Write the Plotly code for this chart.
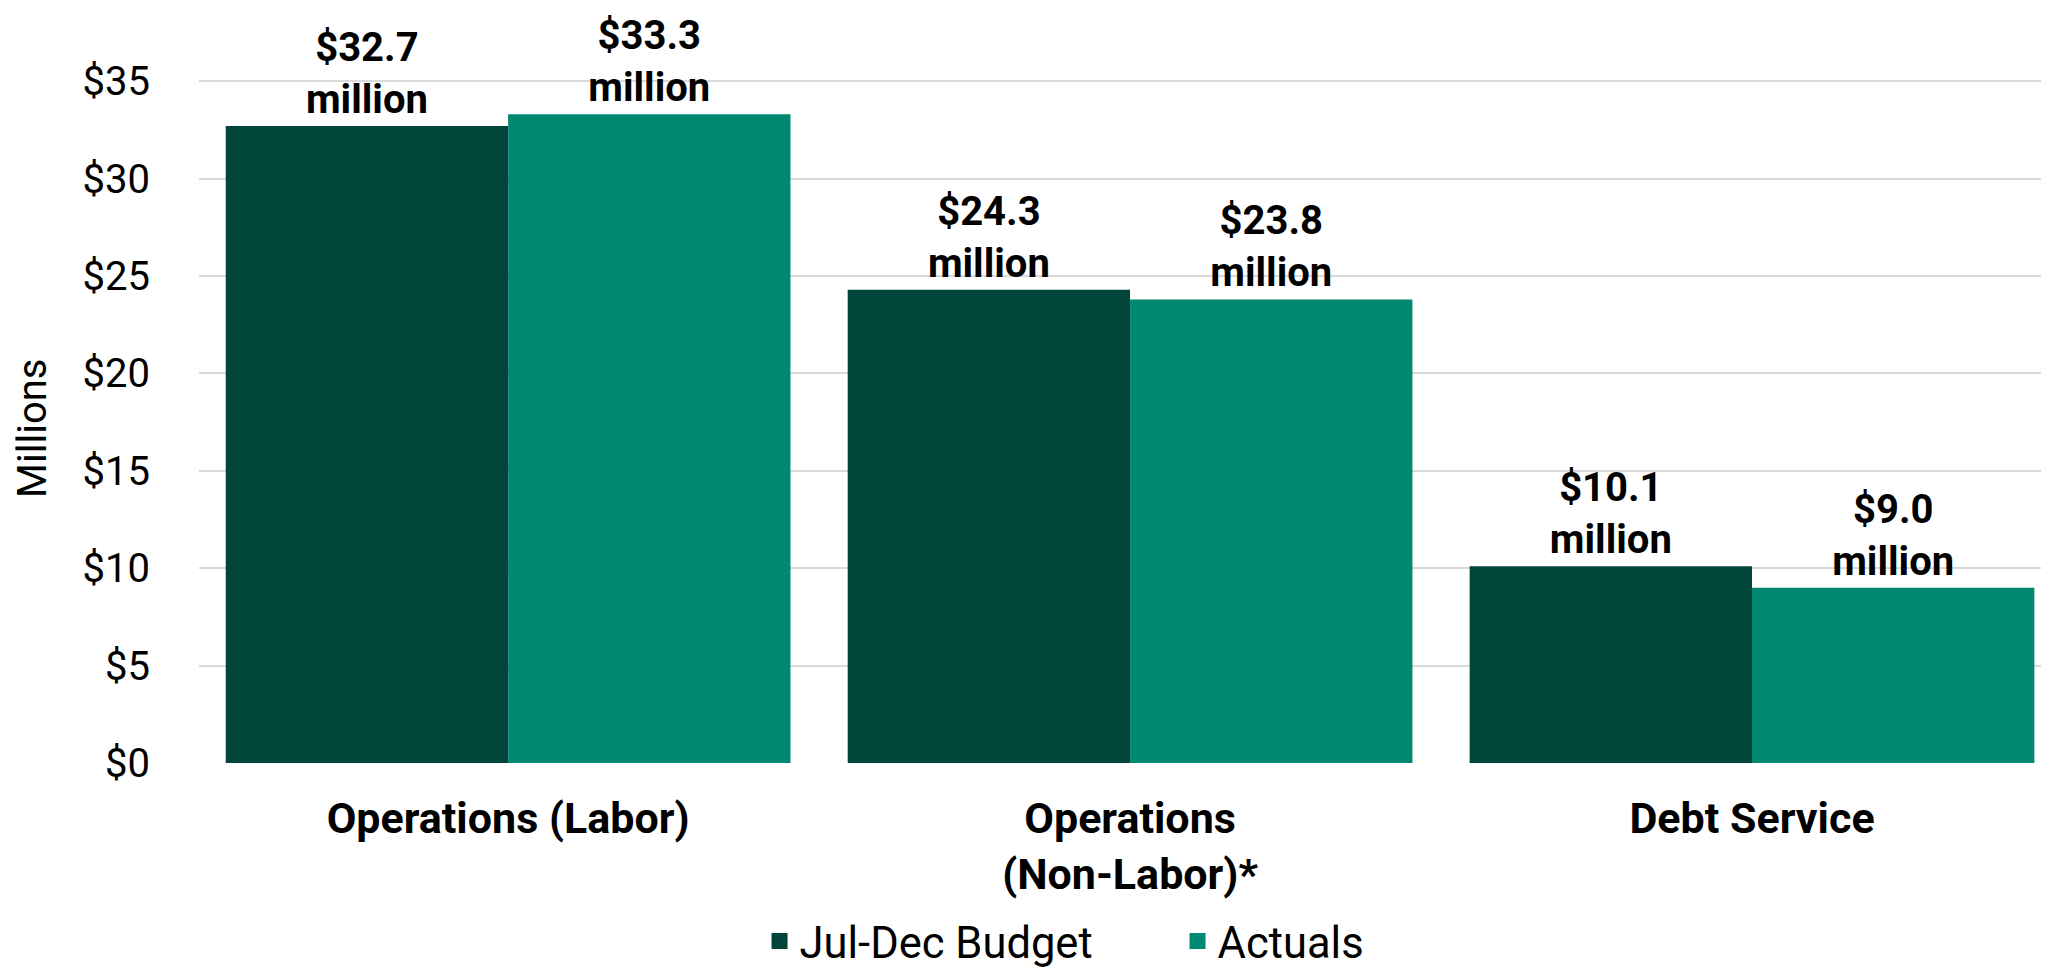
import plotly.graph_objects as go

categories = ["Operations (Labor)", "Operations<br>(Non-Labor)*", "Debt Service"]
budget = [32.7, 24.3, 10.1]
actuals = [33.3, 23.8, 9.0]
series_names = ["Jul-Dec Budget", "Actuals"]
colors = ["#01453A", "#008870"]
y_ticks = [0, 5, 10, 15, 20, 25, 30, 35]
y_tick_text = ["$" + str(v) for v in y_ticks]

FONT = "Roboto"

fig = go.Figure()
for name, vals, col in zip(series_names, [budget, actuals], colors):
    fig.add_trace(go.Bar(
        x=categories, y=vals, name=name, marker=dict(color=col, line=dict(width=0)),
        texttemplate="<b>$%{y:.1f}<br>million</b>", textposition="outside",
        textfont=dict(family=FONT, size=40, color="#000000"),
        cliponaxis=False, showlegend=False, hoverinfo="skip",
    ))
# legend entries
for name, col in zip(series_names, colors):
    fig.add_trace(go.Scatter(
        x=[None], y=[None], mode="markers", name=name,
        marker=dict(symbol="square", size=22, color=col),
    ))

# page body has an 8px default margin, so the figure is 2041x960
fig.update_layout(
    width=2041, height=960,
    margin=dict(l=191, r=0, t=44, b=205, autoexpand=False),
    paper_bgcolor="white", plot_bgcolor="white",
    barmode="group", bargap=0.092, bargroupgap=0,
    font=dict(family=FONT, color="#000000"),
    showlegend=True,
    legend=dict(
        orientation="h", x=0.303, xanchor="left", y=-0.2506, yanchor="middle",
        font=dict(family=FONT, size=43.5, color="#000000"),
        entrywidth=373, entrywidthmode="pixels",
        itemsizing="trace", bgcolor="rgba(0,0,0,0)",
    ),
    xaxis=dict(
        range=[-0.497, 2.4775], showgrid=False, showline=False, zeroline=False,
        tickfont=dict(family=FONT, size=43, color="#000000", weight="bold"),
        ticks="", ticklabelstandoff=26,
    ),
    yaxis=dict(
        range=[0, 36.5], tickvals=y_ticks, ticktext=y_tick_text,
        showgrid=True, gridcolor="#D9D9D9", gridwidth=2,
        zeroline=False, showline=False, ticks="",
        tickfont=dict(family=FONT, size=40, color="#000000"),
        ticklabelstandoff=48,
    ),
    annotations=[dict(
        text="Millions", xref="paper", yref="paper", x=-0.0897, y=0.470,
        xanchor="center", yanchor="middle", textangle=-90, showarrow=False,
        font=dict(family=FONT, size=40, color="#000000"),
    )],
)

fig.write_html("out.html")
